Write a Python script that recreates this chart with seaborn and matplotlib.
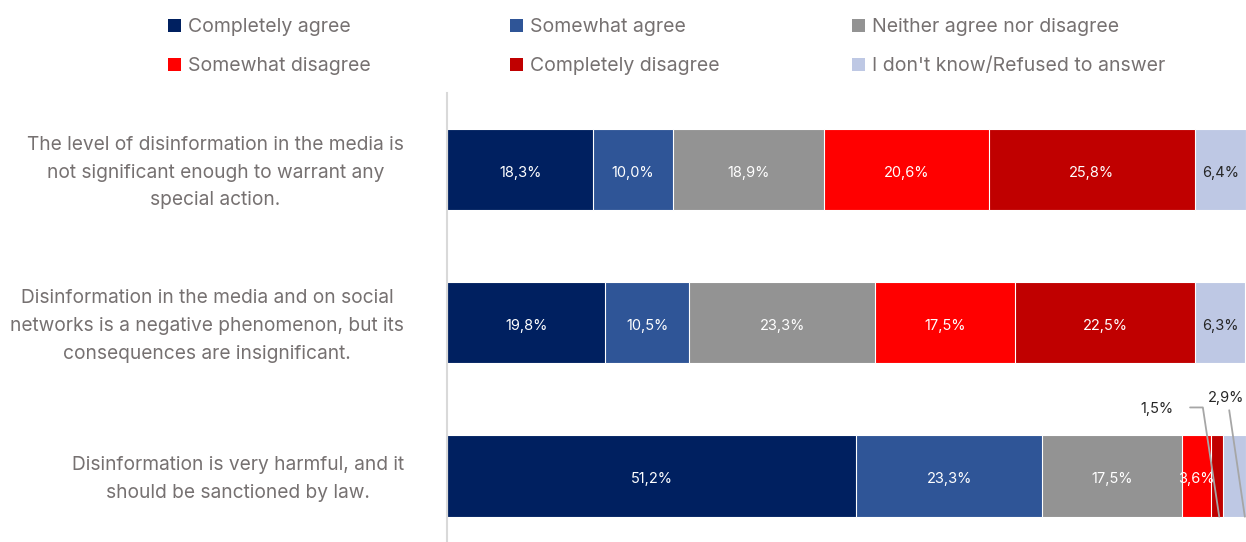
import matplotlib
matplotlib.use("Agg")
import matplotlib.pyplot as plt
import matplotlib.transforms as mtransforms
import seaborn as sns
import pandas as pd
from matplotlib.patches import Patch

statements = [
    "The level of disinformation in the media is\nnot significant enough to warrant any\nspecial action.",
    "Disinformation in the media and on social\nnetworks is a negative phenomenon, but its\nconsequences are insignificant.",
    "Disinformation is very harmful, and it\nshould be sanctioned by law.",
]
responses = [
    "Completely agree",
    "Somewhat agree",
    "Neither agree nor disagree",
    "Somewhat disagree",
    "Completely disagree",
    "I don't know/Refused to answer",
]
completely_agree = [18.3, 19.8, 51.2]
somewhat_agree = [10.0, 10.5, 23.3]
neither = [18.9, 23.3, 17.5]
somewhat_disagree = [20.6, 17.5, 3.6]
completely_disagree = [25.8, 22.5, 1.5]
dont_know = [6.4, 6.3, 2.9]

colors = ["#002060", "#2F5597", "#939393", "#FF0000", "#C00000", "#BEC8E4"]
label_colors = ["white"] * 5 + ["#262626"]
text_grey = "#767171"

sns.set_theme(style="white")
plt.rcParams["font.family"] = ["Inter", "DejaVu Sans"]

series = [completely_agree, somewhat_agree, neither,
          somewhat_disagree, completely_disagree, dont_know]
df = pd.DataFrame({r: v for r, v in zip(responses, series)})
df["statement"] = statements
cum = df[responses].cumsum(axis=1)
left = cum.shift(1, axis=1).fillna(0)

fig = plt.figure(figsize=(12.46, 5.42), dpi=100)
ax = fig.add_axes([447 / 1246, 0.0, 1 - 447 / 1246, (542 - 93) / 542])

# stacked bars: draw cumulative totals from the back layer to the front
for resp, col in reversed(list(zip(responses, colors))):
    sns.barplot(x=cum[resp], y=df["statement"], orient="h", color=col,
                width=0.53, edgecolor="white", linewidth=0.8, ax=ax,
                saturation=1)

ax.set_xlim(0, 100)
ax.set_ylim(2.43, -0.5)
ax.set_xlabel("")
ax.set_ylabel("")
ax.set_xticks([])
for s in ["top", "right", "bottom"]:
    ax.spines[s].set_visible(False)
ax.spines["left"].set_color("#D9D9D9")
ax.spines["left"].set_linewidth(1.5)
ax.tick_params(axis="y", length=0, pad=31)
ax.set_yticklabels(statements, fontsize=13.8, color=text_grey,
                   multialignment="center", linespacing=1.7)
lift = mtransforms.ScaledTranslation(0, 4 / 100, fig.dpi_scale_trans)
for lbl in ax.get_yticklabels():
    lbl.set_transform(lbl.get_transform() + lift)

# value labels inside segments
fmt = lambda v: f"{v:.1f}".replace(".", ",") + "%"
for i in range(len(statements)):
    for resp, lc in zip(responses, label_colors):
        v = df.loc[i, resp]
        cx = left.loc[i, resp] + v / 2
        if i == 2 and resp in ("Completely disagree", "I don't know/Refused to answer"):
            continue
        ax.text(cx, i + 0.02, fmt(v), ha="center", va="center",
                color=lc, fontsize=10.5)

# callouts for the thin segments of the last bar
v_cd = df.loc[2, "Completely disagree"]
x_cd = left.loc[2, "Completely disagree"] + v_cd / 2
ax.plot([93.0, 94.6, x_cd + 0.3], [1.552, 1.552, 2.265], color="#A6A6A6",
        lw=1.3, clip_on=False)
ax.text(88.9, 1.56, fmt(v_cd), ha="center", va="center", fontsize=10.5,
        color="#262626")
v_dk = df.loc[2, "I don't know/Refused to answer"]
x_dk = left.loc[2, "I don't know/Refused to answer"] + v_dk / 2
ax.plot([97.9, x_dk + v_dk * 0.45], [1.57, 2.265], color="#A6A6A6", lw=1.3,
        clip_on=False)
ax.text(97.5, 1.49, fmt(v_dk), ha="center", va="center", fontsize=10.5,
        color="#262626")

# legend: three columns, filled row by row
handles = [Patch(facecolor=c, edgecolor="none", label=r)
           for r, c in zip(responses, colors)]
for col, x0 in enumerate([164, 506, 848]):
    leg = fig.legend(handles=[handles[col], handles[col + 3]],
                     loc="upper left", ncol=1,
                     bbox_to_anchor=(x0 / 1246, 1.0 - 14 / 542), frameon=False,
                     fontsize=14, handlelength=0.65, handleheight=0.65,
                     handletextpad=0.4, labelspacing=1.08, borderaxespad=0,
                     borderpad=0.2)
    for t in leg.get_texts():
        t.set_color(text_grey)

fig.savefig("out.png", dpi=100)
